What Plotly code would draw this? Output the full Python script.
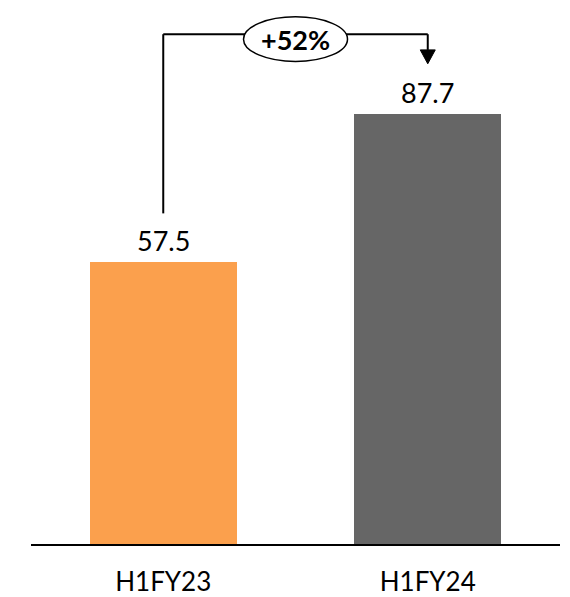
import plotly.graph_objects as go

# Half-year figures
categories = ["H1FY23", "H1FY24"]
values = [57.5, 87.7]
bar_colors = ["#FBA04D", "#666666"]
value_labels = ["57.5", "87.7"]
growth_label = "+52%"

FONT = "Lato, 'Open Sans', sans-serif"
PX_PER_UNIT = 4.948  # vertical scale: 548.7 px plot height / 110.9 units
Y_MAX = 110.9

fig = go.Figure()
fig.add_trace(go.Bar(
    x=[0, 1],
    y=values,
    width=0.556,
    marker=dict(color=bar_colors, line=dict(width=0)),
    hoverinfo="skip",
))

# value labels above each bar
for i, (v, t) in enumerate(zip(values, value_labels)):
    fig.add_annotation(x=i, y=v, text=t, showarrow=False, yanchor="bottom",
                       yshift=3, font=dict(family=FONT, size=27, color="#000000"))

# growth connector: up from the first label, across, down to the second label
line_top = Y_MAX - 34.5 / PX_PER_UNIT
left_bottom = values[0] + 9.9
arrow_tip = values[1] + 10.2
head_h = 14 / PX_PER_UNIT
head_w = 7.5 / 264.5
conn = dict(color="#000000", width=2)
fig.add_shape(type="line", x0=0, x1=0, y0=left_bottom, y1=line_top, line=conn)
fig.add_shape(type="line", x0=0, x1=1, y0=line_top, y1=line_top, line=conn)
fig.add_shape(type="line", x0=1, x1=1, y0=line_top, y1=arrow_tip + head_h, line=conn)
fig.add_shape(type="path",
              path=f"M {1 - head_w} {arrow_tip + head_h} L {1 + head_w} {arrow_tip + head_h} L 1 {arrow_tip} Z",
              fillcolor="#000000", line=dict(color="#000000", width=1))

# growth badge
ell_cy = line_top - 5 / PX_PER_UNIT
ell_hw = 52 / 264.5
ell_hh = 22.5 / PX_PER_UNIT
fig.add_shape(type="circle", x0=0.5 - ell_hw, x1=0.5 + ell_hw,
              y0=ell_cy - ell_hh, y1=ell_cy + ell_hh,
              fillcolor="#FFFFFF", line=dict(color="#000000", width=1.5))
fig.add_annotation(x=0.5, y=ell_cy, text=f"<b>{growth_label}</b>", showarrow=False,
                   font=dict(family=FONT, size=27, color="#000000"))

fig.update_layout(
    width=570, height=597,
    margin=dict(l=31, r=10, t=0, b=48.3),
    paper_bgcolor="#FFFFFF", plot_bgcolor="#FFFFFF",
    showlegend=False,
    bargap=0,
    xaxis=dict(
        range=[-0.5, 1.5], tickmode="array", tickvals=[0, 1], ticktext=categories,
        showgrid=False, zeroline=False, showline=True, linecolor="#000000", linewidth=2,
        ticks="", ticklabelstandoff=14,
        tickfont=dict(family=FONT, size=26, color="#000000"), fixedrange=True,
    ),
    yaxis=dict(range=[0, Y_MAX], visible=False, fixedrange=True),
)

fig.write_html("out.html")
